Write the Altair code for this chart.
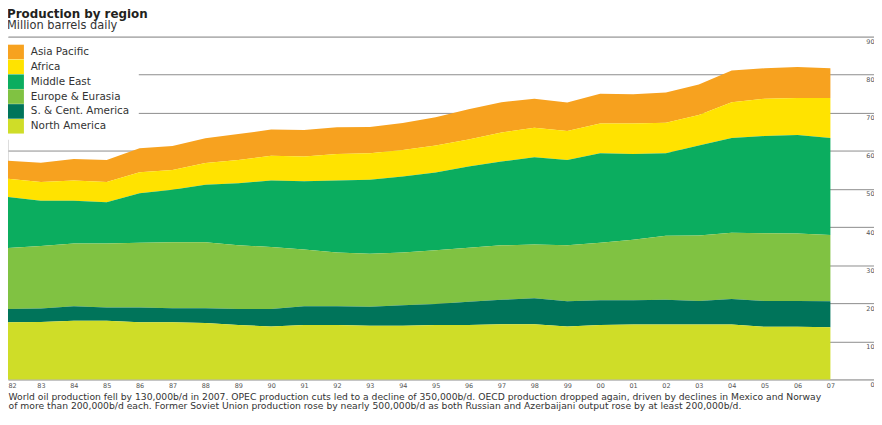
import altair as alt
import pandas as pd

years = list(range(1982, 2008))
regions = ["Asia Pacific", "Africa", "Middle East", "Europe & Eurasia",
           "S. & Cent. America", "North America"]
colors = ["#F7A21F", "#FFE300", "#0BAD5F", "#80C242", "#00745A", "#CFDD28"]

north_america = [15.0, 15.1, 15.4, 15.4, 15.0, 15.0, 14.8, 14.3, 13.9, 14.3, 14.3, 14.1, 14.1,
                 14.3, 14.3, 14.5, 14.5, 13.9, 14.3, 14.4, 14.4, 14.4, 14.4, 13.8, 13.8, 13.7]
s_cent_america = [3.5, 3.5, 3.8, 3.5, 3.9, 3.7, 3.9, 4.2, 4.6, 4.9, 4.9, 5.0, 5.4,
                  5.5, 6.1, 6.4, 6.8, 6.6, 6.5, 6.4, 6.5, 6.2, 6.7, 6.8, 6.8, 6.8]
europe_eurasia = [16.0, 16.4, 16.5, 16.8, 17.0, 17.3, 17.3, 16.7, 16.3, 14.9, 14.1, 13.9, 13.8,
                  14.1, 14.2, 14.3, 14.1, 14.7, 15.1, 15.9, 16.8, 17.2, 17.4, 17.8, 17.7, 17.4]
middle_east = [13.4, 11.9, 11.2, 10.8, 13.0, 13.8, 15.1, 16.3, 17.4, 17.9, 18.9, 19.4, 20.0,
               20.4, 21.3, 22.0, 22.9, 22.4, 23.5, 22.5, 21.7, 23.6, 24.9, 25.5, 25.9, 25.5]
africa = [4.8, 4.9, 5.3, 5.3, 5.5, 5.2, 5.7, 6.1, 6.5, 6.5, 7.0, 7.0, 6.9,
          7.1, 7.1, 7.6, 7.8, 7.6, 7.8, 8.0, 8.0, 8.0, 9.4, 9.8, 9.7, 10.5]
asia_pacific = [4.7, 5.1, 5.7, 5.8, 6.3, 6.3, 6.5, 6.8, 6.9, 7.0, 7.0, 6.9, 7.1,
                7.4, 7.9, 8.0, 7.6, 7.5, 7.8, 7.7, 7.9, 8.0, 8.3, 8.0, 8.1, 7.8]

series = {
    "Asia Pacific": asia_pacific,
    "Africa": africa,
    "Middle East": middle_east,
    "Europe & Eurasia": europe_eurasia,
    "S. & Cent. America": s_cent_america,
    "North America": north_america,
}

caption = [
    "World oil production fell by 130,000b/d in 2007. OPEC production cuts led to a decline of 350,000b/d. "
    "OECD production dropped again, driven by declines in Mexico and Norway",
    "of more than 200,000b/d each. Former Soviet Union production rose by nearly 500,000b/d as both "
    "Russian and Azerbaijani output rose by at least 200,000b/d.",
]

rows = []
for i, name in enumerate(regions):
    for yr, v in zip(years, series[name]):
        rows.append({"year": yr, "region": name, "value": v, "ord": len(regions) - 1 - i})
df = pd.DataFrame(rows)

W, H = 874, 346
XMAX = 1982 + 25 * W / 830.0
FONT = "DejaVu Sans"

# white panel behind the legend so the gridlines begin to its right
legend_bg = alt.Chart(pd.DataFrame({"k": [0]})).mark_rect(color="white").encode(
    x=alt.value(0), x2=alt.value(132), y=alt.value(1.5), y2=alt.value(102)
)

areas = alt.Chart(df).mark_area(interpolate="linear").encode(
    x=alt.X("year:Q",
            scale=alt.Scale(domain=[1982, XMAX], nice=False, zero=False),
            axis=alt.Axis(values=years,
                          labelExpr="substring(toString(datum.value), 2)",
                          grid=False, domain=False, ticks=False,
                          labelFont=FONT, labelFontSize=6.5, labelColor="#555555",
                          labelPadding=3, labelBaseline="top", labelFlush=True,
                          labelOverlap=False,
                          title=caption, titleAnchor="start", titleAlign="left",
                          titleBaseline="alphabetic", titleX=0, titleY=20.5,
                          titleFont=FONT, titleFontSize=9.3, titleFontWeight="normal",
                          titleColor="#333333", titleLineHeight=9.2)),
    y=alt.Y("value:Q", stack="zero",
            scale=alt.Scale(domain=[0, 90], nice=False),
            axis=alt.Axis(orient="right", values=list(range(0, 100, 10)),
                          grid=True, gridColor="#8C8C8C", gridWidth=1,
                          domain=False, ticks=False,
                          labelAlign="right", labelBaseline="top", labelPadding=0,
                          labelOffset=2, labelFont=FONT, labelFontSize=6.5,
                          labelColor="#555555", title=None)),
    color=alt.Color("region:N",
                    scale=alt.Scale(domain=regions, range=colors),
                    legend=alt.Legend(orient="none", legendX=-6.4, legendY=2,
                                      title=None,
                                      symbolType="M-1.22,-1H1.22V1H-1.22Z",
                                      symbolSize=216, symbolStrokeWidth=0,
                                      symbolOpacity=1,
                                      labelFont=FONT, labelFontSize=10.5,
                                      labelColor="#333333", labelOffset=8.4,
                                      rowPadding=0, padding=6, fillColor="white",
                                      labelLimit=250)),
    order=alt.Order("ord:Q", sort="ascending"),
)

chart = alt.layer(legend_bg, areas).properties(
    width=W, height=H,
    padding={"left": 0, "top": 27, "right": 0, "bottom": 32},
    autosize=alt.AutoSizeParams(type="none"),
    title=alt.TitleParams(text="Production by region", subtitle="Million barrels daily",
                          anchor="start", frame="group", orient="top",
                          font=FONT, fontSize=12, fontWeight="bold", color="#231F20",
                          subtitleFont=FONT, subtitleFontSize=11.5,
                          subtitleColor="#333333", subtitlePadding=-0.5,
                          offset=4, dx=-1),
).configure_view(stroke=None).configure(background="white")

chart.save("out.html", embed_options={"renderer": "svg", "actions": False})
